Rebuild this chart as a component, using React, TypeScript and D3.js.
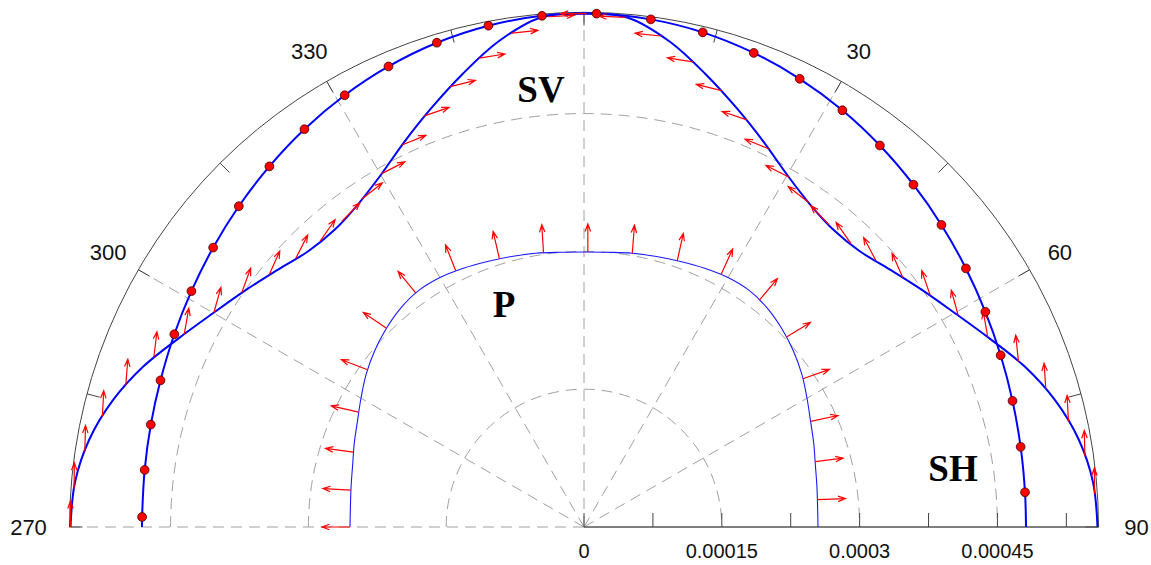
import React from "react";
import * as d3 from "d3";

// ---------- data (slowness in s/m, angles in degrees from vertical, clockwise) ----------
const CURVE_ANGLES = [-90, -85, -80, -75, -70, -65, -60, -55, -50, -45, -40, -35, -30, -25, -20, -15, -10, -5, 0,
  5, 10, 15, 20, 25, 30, 35, 40, 45, 50, 55, 60, 65, 70, 75, 80, 85, 90];

const P_SLOWNESS = [2.547e-4, 2.552e-4, 2.574e-4, 2.607e-4, 2.661e-4, 2.721e-4, 2.803e-4, 2.895e-4, 2.977e-4, 3.048e-4,
  3.107e-4, 3.140e-4, 3.135e-4, 3.107e-4, 3.075e-4, 3.048e-4, 3.026e-4, 3.002e-4, 2.993e-4,
  3.002e-4, 3.026e-4, 3.048e-4, 3.075e-4, 3.107e-4, 3.135e-4, 3.140e-4, 3.107e-4, 3.048e-4, 2.977e-4,
  2.895e-4, 2.803e-4, 2.721e-4, 2.661e-4, 2.607e-4, 2.574e-4, 2.552e-4, 2.547e-4];

const SV_SLOWNESS = [5.589e-4, 5.562e-4, 5.469e-4, 5.312e-4, 5.105e-4, 4.865e-4, 4.659e-4, 4.495e-4, 4.354e-4, 4.245e-4,
  4.223e-4, 4.288e-4, 4.424e-4, 4.626e-4, 4.854e-4, 5.105e-4, 5.366e-4, 5.562e-4, 5.589e-4,
  5.562e-4, 5.366e-4, 5.105e-4, 4.854e-4, 4.626e-4, 4.424e-4, 4.288e-4, 4.223e-4, 4.245e-4, 4.354e-4,
  4.495e-4, 4.659e-4, 4.865e-4, 5.105e-4, 5.312e-4, 5.469e-4, 5.562e-4, 5.589e-4];

const SH_END_ANGLES = [-90, 90];
const SH_END_SLOWNESS = 4.811e-4;
const SH_DOT_ANGLES = [-88.7, -82.6, -76.7, -70.9, -64.8, -59.0, -53.0, -47.1, -41.1, -35.1, -29.0, -23.0, -16.9, -10.8, -4.7,
  1.4, 7.5, 13.5, 19.7, 25.7, 31.8, 37.8, 43.9, 49.8, 55.9, 61.8, 67.6, 73.6, 79.6, 85.5];
const SH_DOT_SLOWNESS = [4.811e-4, 4.822e-4, 4.845e-4, 4.878e-4, 4.928e-4, 4.985e-4, 5.054e-4, 5.129e-4, 5.209e-4, 5.292e-4,
  5.373e-4, 5.446e-4, 5.509e-4, 5.555e-4, 5.583e-4, 5.589e-4, 5.573e-4, 5.537e-4, 5.481e-4, 5.414e-4,
  5.337e-4, 5.255e-4, 5.171e-4, 5.094e-4, 5.020e-4, 4.957e-4, 4.905e-4, 4.862e-4, 4.832e-4, 4.815e-4];

// P polarization arrows: position angle and arrow direction (degrees from vertical, clockwise)
const P_ARROW_ANGLES = [-90, -81, -72, -63, -54, -44.8, -35.7, -26.6, -17.5, -8.4,
  0.8, 10, 19.3, 28.5, 37.7, 46.8, 55.9, 65, 74.2, 83.3];
const P_ARROW_DIRS = [-90, -87, -82.5, -77, -69, -56, -39.5, -21.5, -13, -3.5,
  0, 4.5, 12.5, 24.5, 40, 59, 70.5, 78, 83, 88];

// SV polarization arrows
const SV_ARROW_ANGLES = [-90, -85.7, -81.4, -77.1, -72.8, -68.5, -64.2, -59.9, -55.6, -51.3, -47, -42.7, -38.4, -34.1,
  -29.8, -25.5, -21.2, -16.9, -12.6, -8.3, -4, 0.3, 4.6, 8.9, 13.2, 17.5, 21.8, 26.1, 30.4, 34.7, 39, 43.3,
  47.6, 51.9, 56.2, 60.5, 64.8, 69.1, 73.4, 77.7, 82, 86.3];
const SV_ARROW_DIRS = [0, 0.5, 1.5, 3, 4.5, 7, 10, 15.5, 20, 24, 27, 35, 44, 52,
  63, 68, 71, 76, 81, 84, 87, -90, -87, -84, -81, -76, -71, -68, -63, -52, -44, -35,
  -28, -24, -19, -15.5, -10, -6, -4, -3, -1.5, -0.5];

// grid / axis
const GRID_CIRCLES = [0.00015, 0.0003, 0.00045];
const SPOKE_ANGLES = [-90, -60, -30, 0, 30, 60];
const OUTER_TICK_ANGLES = [-90, -75, -60, -45, -30, -15, 0, 15, 30, 45, 60, 75, 90];
const ANGLE_LABEL_ANGLES = [-90, -60, -30, 30, 60, 90];
const ANGLE_LABELS = ["270", "300", "330", "30", "60", "90"];
const AXIS_TICKS = [0, 0.000075, 0.00015, 0.000225, 0.0003, 0.000375, 0.00045, 0.000525];
const AXIS_LABEL_VALUES = [0, 0.00015, 0.0003, 0.00045];
const AXIS_LABELS = ["0", "0.00015", "0.0003", "0.00045"];
const R_MAX = 0.00056;

// ---------- layout ----------
const W = 1151, H = 565;
const CX = 584, CY = 527, R = 514.5;

const rad = (d: number) => (d * Math.PI) / 180;

export default function App() {
  const r = d3.scaleLinear().domain([0, R_MAX]).range([0, R]);
  const xAxis = d3.scaleLinear().domain([0, R_MAX]).range([CX, CX + R]);
  const pAt = d3.scaleLinear().domain(CURVE_ANGLES).range(P_SLOWNESS);
  const svAt = d3.scaleLinear().domain(CURVE_ANGLES).range(SV_SLOWNESS);

  const pt = (deg: number, v: number): [number, number] => [
    CX + r(v) * Math.sin(rad(deg)),
    CY - r(v) * Math.cos(rad(deg)),
  ];

  const line = d3
    .lineRadial<[number, number]>()
    .angle((d) => rad(d[0]))
    .radius((d) => r(d[1]))
    .curve(d3.curveCatmullRom.alpha(0.5));

  const pData = CURVE_ANGLES.map((a, i) => [a, P_SLOWNESS[i]] as [number, number]);
  const svData = CURVE_ANGLES.map((a, i) => [a, SV_SLOWNESS[i]] as [number, number]);
  const shData: [number, number][] = [
    [SH_END_ANGLES[0], SH_END_SLOWNESS],
    ...SH_DOT_ANGLES.map((a, i) => [a, SH_DOT_SLOWNESS[i]] as [number, number]),
    [SH_END_ANGLES[1], SH_END_SLOWNESS],
  ];

  const arrowPath = (x0: number, y0: number, dirDeg: number, len: number) => {
    const a = rad(dirDeg);
    const dx = Math.sin(a), dy = -Math.cos(a);
    const x1 = x0 + dx * len, y1 = y0 + dy * len;
    const hl = 8, ha = rad(20);
    const bx = -dx, by = -dy;
    const rot = (t: number) => [bx * Math.cos(t) - by * Math.sin(t), bx * Math.sin(t) + by * Math.cos(t)];
    const [l1x, l1y] = rot(ha);
    const [l2x, l2y] = rot(-ha);
    const p = d3.path();
    p.moveTo(x0, y0);
    p.lineTo(x1, y1);
    p.moveTo(x1 + l1x * hl, y1 + l1y * hl);
    p.lineTo(x1, y1);
    p.lineTo(x1 + l2x * hl, y1 + l2y * hl);
    return p.toString();
  };

  const gridArc = (v: number) => {
    const p = d3.path();
    p.arc(CX, CY, r(v), -Math.PI, 0, false);
    return p.toString();
  };

  const sans = "'Liberation Sans', Arial, sans-serif";
  const serif = "'Liberation Serif', 'Times New Roman', serif";

  return (
    <div>
      <style>{`body{margin:0;background:#fff}`}</style>
      <svg width={W} height={H} viewBox={`0 0 ${W} ${H}`} style={{ display: "block" }}>
        <rect width={W} height={H} fill="#fff" />
        {/* grid circles */}
        {GRID_CIRCLES.map((v) => (
          <path key={v} d={gridArc(v)} fill="none" stroke="#a0a0a0" strokeWidth={1} strokeDasharray="11,7" />
        ))}
        {/* spokes */}
        {SPOKE_ANGLES.map((a) => {
          const [x, y] = pt(a, R_MAX);
          return (
            <line key={a} x1={CX} y1={CY} x2={x} y2={y} stroke="#a0a0a0" strokeWidth={1} strokeDasharray="11,7" />
          );
        })}
        {/* outer circle */}
        <path d={gridArc(R_MAX)} fill="none" stroke="#444" strokeWidth={1} />
        {OUTER_TICK_ANGLES.map((a) => {
          const [x1, y1] = pt(a, R_MAX);
          const [x2, y2] = pt(a, r.invert(R - 13));
          return <line key={a} x1={x1} y1={y1} x2={x2} y2={y2} stroke="#444" strokeWidth={1} />;
        })}
        {/* radial axis */}
        <line x1={xAxis(0)} y1={CY} x2={xAxis(R_MAX)} y2={CY} stroke="#555" strokeWidth={1.5} />
        {AXIS_TICKS.map((v) => (
          <line key={v} x1={xAxis(v)} y1={CY} x2={xAxis(v)} y2={CY - 14} stroke="#444" strokeWidth={1} />
        ))}
        {AXIS_LABEL_VALUES.map((v, i) => (
          <text key={v} x={xAxis(v)} y={CY + 31} textAnchor="middle" fontFamily={sans} fontSize={20} fill="#111">
            {AXIS_LABELS[i]}
          </text>
        ))}
        {ANGLE_LABEL_ANGLES.map((a, i) => {
          const off = Math.abs(a) === 90 ? (a < 0 ? 41 : 38) : 35;
          const [x, y] = pt(a, r.invert(R + off));
          return (
            <text key={a} x={x} y={y} dy="0.35em" textAnchor="middle" fontFamily={sans} fontSize={22} fill="#111">
              {ANGLE_LABELS[i]}
            </text>
          );
        })}
        {/* curves */}
        <g transform={`translate(${CX},${CY})`}>
          <path d={line(pData) || ""} fill="none" stroke="#1a1aff" strokeWidth={1.1} />
          <path d={line(svData) || ""} fill="none" stroke="#0000ff" strokeWidth={2} />
          <path d={line(shData) || ""} fill="none" stroke="#0000ff" strokeWidth={2} />
        </g>
        {/* polarization arrows */}
        {P_ARROW_ANGLES.map((a, i) => {
          const [x0, y0] = pt(a, pAt(a));
          return (
            <path key={"p" + i} d={arrowPath(x0, y0, P_ARROW_DIRS[i], 28)} fill="none" stroke="#ff0000" strokeWidth={1.2} />
          );
        })}
        {SV_ARROW_ANGLES.map((a, i) => {
          const [x0, y0] = pt(a, svAt(a));
          return (
            <path key={"sv" + i} d={arrowPath(x0, y0, SV_ARROW_DIRS[i], 26)} fill="none" stroke="#ff0000" strokeWidth={1.2} />
          );
        })}
        {/* SH dots */}
        {SH_DOT_ANGLES.map((a, i) => {
          const [x, y] = pt(a, SH_DOT_SLOWNESS[i]);
          return <circle key={"d" + i} cx={x} cy={y} r={4.4} fill="#ff0000" stroke="#400000" strokeWidth={0.8} />;
        })}
        {/* curve names */}
        <text x={541} y={102} textAnchor="middle" fontFamily={serif} fontWeight="bold" fontSize={37} fill="#000">SV</text>
        <text x={504} y={317} textAnchor="middle" fontFamily={serif} fontWeight="bold" fontSize={37} fill="#000">P</text>
        <text x={953} y={481} textAnchor="middle" fontFamily={serif} fontWeight="bold" fontSize={37} fill="#000">SH</text>
      </svg>
    </div>
  );
}
